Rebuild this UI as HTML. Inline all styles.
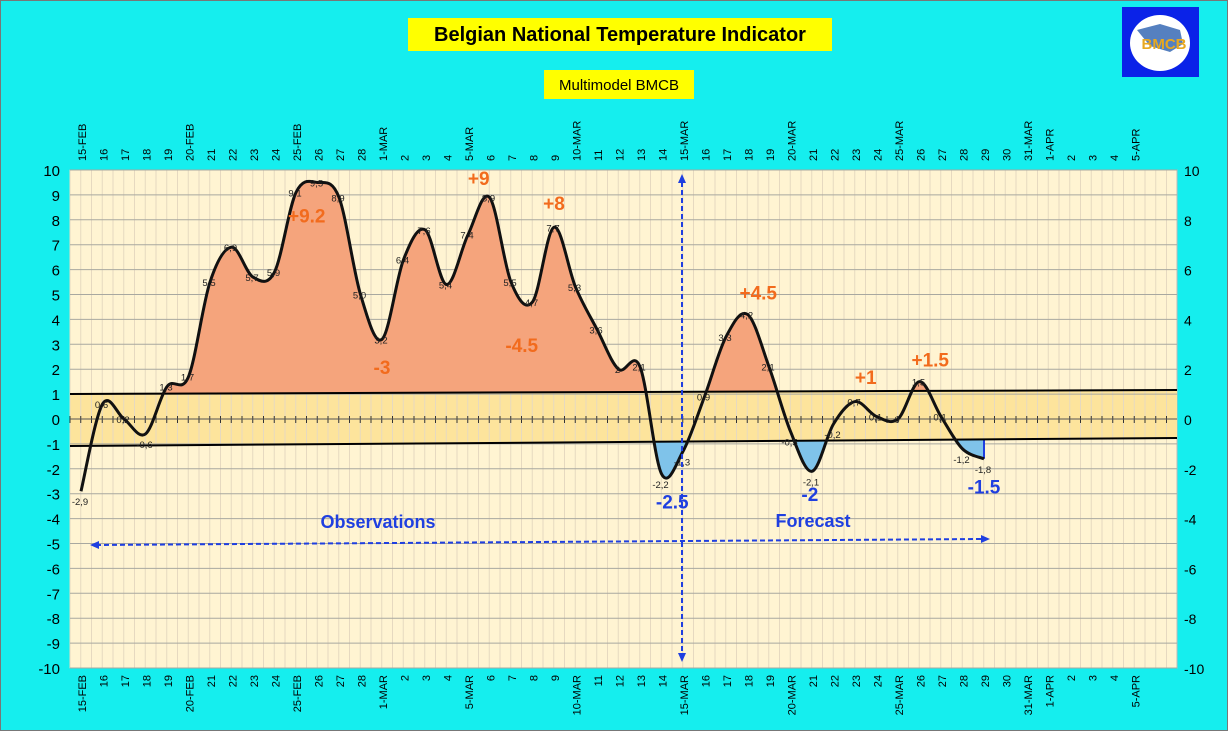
<!DOCTYPE html>
<html><head><meta charset="utf-8"><style>
body{margin:0;background:#15eeee;}
svg{display:block;font-family:"Liberation Sans",sans-serif;}
</style></head><body>
<svg id="chart" width="1228" height="731" viewBox="0 0 1228 731">
<rect x="0" y="0" width="1228" height="731" fill="#15eeee" stroke="#777" stroke-width="2"/>
<rect x="408" y="18" width="424" height="33" fill="#ffff00"/>
<text x="620" y="41" text-anchor="middle" font-size="20" font-weight="bold" fill="#000">Belgian National Temperature Indicator</text>
<rect x="544" y="70" width="150" height="29" fill="#ffff00"/>
<text x="619" y="90" text-anchor="middle" font-size="15" fill="#000">Multimodel BMCB</text>
<g>
<rect x="1122" y="7" width="77" height="70" fill="#0a22e8"/>
<ellipse cx="1160" cy="43" rx="30" ry="28" fill="#fff"/>
<path d="M1137 30 L1160 24 L1180 30 L1183 44 L1170 52 L1150 46 Z" fill="#5580c0"/>
<text x="1164" y="49" text-anchor="middle" font-size="15" font-weight="bold" fill="#e8a820">BMCB</text>
</g>
<g id="plot"></g>
</svg>
<script>
const categories=["15-FEB","16","17","18","19","20-FEB","21","22","23","24","25-FEB","26","27","28","1-MAR","2","3","4","5-MAR","6","7","8","9","10-MAR","11","12","13","14","15-MAR","16","17","18","19","20-MAR","21","22","23","24","25-MAR","26","27","28","29","30","31-MAR","1-APR","2","3","4","5-APR"];
const values=[-2.9,0.6,0.0,-0.6,1.3,1.7,5.5,6.9,5.7,5.9,9.1,9.5,8.9,5.0,3.2,6.4,7.6,5.4,7.4,8.9,5.5,4.7,7.7,5.3,3.6,2.0,2.1,-2.2,-1.3,0.9,3.3,4.2,2.1,-0.5,-2.1,-0.2,0.7,0.1,0.0,1.5,0.1,-1.2,-1.6];
const valueLabels=["-2,9","0,6","0,2","-0,6","1,3","1,7","5,5","6,9","5,7","5,9","9,1","9,5","8,9","5,0","3,2","6,4","7,6","5,4","7,4","8,9","5,5","4,7","7,7","5,3","3,6","2","2,1","-2,2","-1,3","0,9","3,3","4,2","2,1","-0,5","-2,1","-0,2","0,7","0,1","0","1,5","0,1","-1,2","-1,8"];
const leftTicks=[10,9,8,7,6,5,4,3,2,1,0,-1,-2,-3,-4,-5,-6,-7,-8,-9,-10];
const rightTicks=[10,8,6,4,2,0,-2,-4,-6,-8,-10];
const annotDay=[10.5,18.5,22,14,20.5,31.5,36.5,39.5,27.5,33.9,42];
const annotVal=[7.9,9.4,8.4,1.8,2.7,4.8,1.4,2.1,-3.6,-3.3,-3.0];
const annotText=["+9.2","+9","+8","-3","-4.5","+4.5","+1","+1.5","-2.5","-2","-1.5"];
const annotColor=["#f26b1d","#f26b1d","#f26b1d","#f26b1d","#f26b1d","#f26b1d","#f26b1d","#f26b1d","#1f3fe0","#1f3fe0","#1f3fe0"];

const NS="http://www.w3.org/2000/svg";
const L=70,R=1177,T=170,B=668;
const x=d=>81+d*21.5;
const y=v=>419-v*24.9;
const g=document.getElementById('plot');
function el(t,a,p){const e=document.createElementNS(NS,t);for(const k in a)e.setAttribute(k,a[k]);(p||g).appendChild(e);return e;}
const upY=px=>394+(px-L)/(R-L)*(-4);
const loY=px=>446+(px-L)/(R-L)*(-8);

let r=el('rect',{x:L,y:T,width:R-L,height:B-T,fill:'#fff4d2',stroke:'#bbb'});


let band=el('polygon',{points:`${L},${upY(L)} ${R},${upY(R)} ${R},${loY(R)} ${L},${loY(L)}`,fill:'#fde49c'});


for(let i=0;i<=103;i++){const px=L+i*10.75;if(px>R)break;
 let l=el('line',{x1:px,x2:px,y1:T,y2:B,stroke:'#e6d9c0','stroke-width':1});
 
 }
leftTicks.forEach(v=>{
 let l=el('line',{x1:L,x2:R,y1:y(v),y2:y(v),stroke:'#a8a8a0','stroke-width':1});
 
 
 let t=el('text',{x:60,y:y(v)+6,'text-anchor':'end','font-size':15,fill:'#000'});t.textContent=v;
 
 });
rightTicks.forEach(v=>{let t=el('text',{x:1184,y:y(v)+6,'font-size':14,fill:'#000'});t.textContent=v;
 
 });
for(let i=0;i<=103;i++){const px=L+i*10.75;if(px>R)break;
 let l=el('line',{x1:px,x2:px,y1:y(0)-3,y2:y(0)+4,stroke:'#333','stroke-width':1});
 
 }
let zl=el('line',{x1:L,x2:R,y1:y(0),y2:y(0),stroke:'#555','stroke-width':1});


categories.forEach((c,i)=>{const px=x(i);
 let t=el('text',{transform:`translate(${px+5},161) rotate(-90)`,'font-size':11,fill:'#000'});t.textContent=c;
 
 
 let b=el('text',{transform:`translate(${px+5},675) rotate(-90)`,'font-size':11,'text-anchor':'end',fill:'#000'});b.textContent=c;
 
 });

const pts=values.map((v,i)=>[x(i),y(v)]);
let d=`M${pts[0][0]},${pts[0][1]}`;
for(let i=0;i<pts.length-1;i++){const p0=pts[i-1]||pts[i],p1=pts[i],p2=pts[i+1],p3=pts[i+2]||p2;
 d+=` C${p1[0]+(p2[0]-p0[0])/6},${p1[1]+(p2[1]-p0[1])/6} ${p2[0]-(p3[0]-p1[0])/6},${p2[1]-(p3[1]-p1[1])/6} ${p2[0]},${p2[1]}`;}
const last=pts[pts.length-1];
const defs=el('defs',{});
const c1=el('clipPath',{id:'above'},defs);el('polygon',{points:`${L},${T} ${R},${T} ${R},${upY(R)} ${L},${upY(L)}`},c1);
const c2=el('clipPath',{id:'below'},defs);el('polygon',{points:`${x(4)},${loY(x(4))} ${R},${loY(R)} ${R},${B} ${x(4)},${B}`},c2);
let fa=el('path',{d:d+` L${last[0]},${upY(last[0])} L${pts[0][0]},${upY(pts[0][0])} Z`,fill:'#f5a47c','clip-path':'url(#above)'});


let fb=el('path',{d:d+` L${last[0]},${loY(last[0])} L${pts[0][0]},${loY(pts[0][0])} Z`,fill:'#7fc3ea','clip-path':'url(#below)'});


let bl=el('line',{x1:last[0],x2:last[0],y1:loY(last[0]),y2:last[1],stroke:'#1f3fe0','stroke-width':2});


let ul=el('line',{x1:L,x2:R,y1:upY(L),y2:upY(R),stroke:'#000','stroke-width':2});


let ll=el('line',{x1:L,x2:R,y1:loY(L),y2:loY(R),stroke:'#000','stroke-width':2});


let cv=el('path',{d:d,fill:'none',stroke:'#111','stroke-width':3});


values.forEach((v,i)=>{let t=el('text',{x:x(i)-1,y:y(v)+(v<0?14:4),'font-size':9.5,'text-anchor':'middle',fill:'#222'});t.textContent=valueLabels[i];
 
 });
annotText.forEach((s,i)=>{let t=el('text',{x:x(annotDay[i]),y:y(annotVal[i]),'font-size':19,'font-weight':'bold','text-anchor':'middle',fill:annotColor[i]});t.textContent=s;
 
 });
let o=el('text',{x:378,y:528,'font-size':18,'font-weight':'bold','text-anchor':'middle',fill:'#1f3fe0'});o.textContent='Observations';


let f=el('text',{x:813,y:527,'font-size':18,'font-weight':'bold','text-anchor':'middle',fill:'#1f3fe0'});f.textContent='Forecast';


let ha=el('line',{x1:96,x2:982,y1:545,y2:539,stroke:'#1f3fe0','stroke-width':2,'stroke-dasharray':'5,3'});


let va=el('line',{x1:682,x2:682,y1:182,y2:654,stroke:'#1f3fe0','stroke-width':2,'stroke-dasharray':'5,3'});


[[90,545,1],[990,539,-1]].forEach(a=>{let p=el('polygon',{points:`${a[0]},${a[1]} ${a[0]+9*a[2]},${a[1]-4} ${a[0]+9*a[2]},${a[1]+4}`,fill:'#1f3fe0'});
 
 });
[[682,174,1],[682,662,-1]].forEach(a=>{let p=el('polygon',{points:`${a[0]},${a[1]} ${a[0]-4},${a[1]+9*a[2]} ${a[0]+4},${a[1]+9*a[2]}`,fill:'#1f3fe0'});
 
 });
</script>
</body></html>
